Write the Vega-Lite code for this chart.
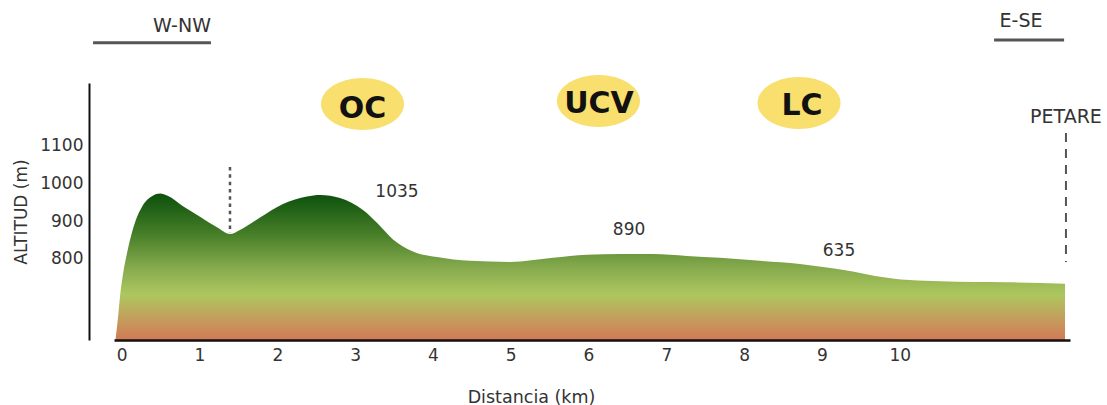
{
  "$schema": "https://vega.github.io/schema/vega-lite/v6.json",
  "width": 956,
  "height": 257,
  "autosize": {"type": "none"},
  "padding": {"left": 114, "top": 83, "right": 37, "bottom": 65},
  "background": "white",
  "config": {"view": {"stroke": null}},
  "datasets": {
    "profile": [
      {"km": -0.08, "alt": 585},
      {"km": -0.05, "alt": 640},
      {"km": -0.022, "alt": 700},
      {"km": 0.017, "alt": 760},
      {"km": 0.068, "alt": 815},
      {"km": 0.145, "alt": 880},
      {"km": 0.27, "alt": 942},
      {"km": 0.4, "alt": 968},
      {"km": 0.492, "alt": 974},
      {"km": 0.59, "alt": 968},
      {"km": 0.788, "alt": 940},
      {"km": 1.006, "alt": 912},
      {"km": 1.225, "alt": 884},
      {"km": 1.392, "alt": 866},
      {"km": 1.52, "alt": 877},
      {"km": 1.778, "alt": 910},
      {"km": 2.073, "alt": 946},
      {"km": 2.382, "alt": 966},
      {"km": 2.55, "alt": 970},
      {"km": 2.806, "alt": 962},
      {"km": 3.101, "alt": 930},
      {"km": 3.281, "alt": 896},
      {"km": 3.487, "alt": 852},
      {"km": 3.744, "alt": 820},
      {"km": 4.053, "alt": 805},
      {"km": 4.477, "alt": 795},
      {"km": 4.991, "alt": 792},
      {"km": 5.543, "alt": 803},
      {"km": 5.98, "alt": 811},
      {"km": 6.405, "alt": 813},
      {"km": 6.829, "alt": 813},
      {"km": 7.266, "alt": 808},
      {"km": 7.69, "alt": 803},
      {"km": 8.204, "alt": 795},
      {"km": 8.718, "alt": 787},
      {"km": 9.014, "alt": 779},
      {"km": 9.3, "alt": 770},
      {"km": 9.683, "alt": 755},
      {"km": 10.13, "alt": 744},
      {"km": 10.52, "alt": 741},
      {"km": 11.38, "alt": 738},
      {"km": 12.125, "alt": 734}
    ],
    "places": [
      {"km": 3.095, "alt": 1211.5, "label": "OC"},
      {"km": 6.128, "alt": 1219.5, "label": "UCV"},
      {"km": 8.706, "alt": 1214.2, "label": "LC"}
    ],
    "placeLabels": [
      {"km": 3.095, "alt": 1198, "label": "OC"},
      {"km": 6.135, "alt": 1211.5, "label": "UCV"},
      {"km": 8.744, "alt": 1206, "label": "LC"}
    ],
    "heights": [
      {"km": 3.538, "alt": 978, "label": "1035"},
      {"km": 6.521, "alt": 877, "label": "890"},
      {"km": 9.22, "alt": 821, "label": "635"}
    ],
    "directions": [
      {"km": 0.775, "alt": 1418.6, "label": "W-NW"},
      {"km": 11.56, "alt": 1431.9, "label": "E-SE"},
      {"km": 12.137, "alt": 1177, "label": "PETARE"}
    ],
    "underlines": [
      {"km": -0.368, "km2": 1.147, "alt": 1373.5},
      {"km": 11.213, "km2": 12.113, "alt": 1381.4}
    ],
    "dotted": [
      {"km": 1.392, "alt": 1044, "alt2": 869}
    ],
    "dashed": [
      {"km": 12.137, "alt": 1134.5, "alt2": 792}
    ]
  },
  "encoding": {
    "x": {
      "field": "km",
      "type": "quantitative",
      "scale": {"domain": [-0.099, 12.189], "nice": false, "zero": false},
      "axis": {
        "values": [0, 1, 2, 3, 4, 5, 6, 7, 8, 9, 10],
        "title": "Distancia (km)",
        "zindex": 2,
        "grid": false,
        "ticks": false,
        "tickSize": 0,
        "domainColor": "#111111",
        "domainWidth": 2.5,
        "labelFont": "DejaVu Sans",
        "labelFontSize": 17,
        "labelColor": "#333333",
        "labelPadding": 7,
        "labelFlush": false,
        "labelOverlap": false,
        "titleFont": "DejaVu Sans",
        "titleFontSize": 17.5,
        "titleFontWeight": "normal",
        "titleColor": "#333333",
        "titleX": 417,
        "titleY": 48,
        "titleBaseline": "top"
      }
    },
    "y": {
      "field": "alt",
      "type": "quantitative",
      "scale": {"domain": [585, 1267], "nice": false, "zero": false},
      "axis": {
        "values": [800, 900, 1000, 1100],
        "format": "d",
        "title": "ALTITUD (m)",
        "zindex": 2,
        "grid": false,
        "ticks": false,
        "tickSize": 0,
        "offset": 25,
        "domainColor": "#111111",
        "domainWidth": 2,
        "labelFont": "DejaVu Sans",
        "labelFontSize": 17,
        "labelColor": "#333333",
        "labelPadding": 6,
        "titleFont": "DejaVu Sans",
        "titleFontSize": 17,
        "titleFontWeight": "normal",
        "titleColor": "#333333",
        "titlePadding": 9
      }
    }
  },
  "layer": [
    {
      "data": {"name": "profile"},
      "mark": {
        "type": "area",
        "interpolate": "monotone",
        "color": {
          "gradient": "linear",
          "x1": 0, "y1": 0, "x2": 0, "y2": 1,
          "stops": [
            {"offset": 0, "color": "#0b500c"},
            {"offset": 0.27, "color": "#457d27"},
            {"offset": 0.5, "color": "#84a94c"},
            {"offset": 0.69, "color": "#adc75f"},
            {"offset": 0.85, "color": "#c39e5c"},
            {"offset": 1, "color": "#d27a56"}
          ]
        }
      },
      "encoding": {"y2": {"datum": 585}}
    },
    {
      "data": {"name": "dotted"},
      "mark": {"type": "rule", "color": "#555555", "strokeWidth": 2.5, "strokeDash": [3.5, 3.8]},
      "encoding": {"y2": {"field": "alt2"}}
    },
    {
      "data": {"name": "dashed"},
      "mark": {"type": "rule", "color": "#555555", "strokeWidth": 2, "strokeDash": [9, 7]},
      "encoding": {"y2": {"field": "alt2"}}
    },
    {
      "data": {"name": "underlines"},
      "mark": {"type": "rule", "color": "#555555", "strokeWidth": 3},
      "encoding": {"x2": {"field": "km2"}}
    },
    {
      "data": {"name": "places"},
      "mark": {
        "type": "point",
        "shape": "M-1,0A1,0.6265,0,1,1,1,0A1,0.6265,0,1,1,-1,0Z",
        "size": 6889,
        "filled": true,
        "color": "#f8df6e",
        "opacity": 1,
        "strokeWidth": 0
      }
    },
    {
      "data": {"name": "placeLabels"},
      "mark": {"type": "text", "font": "DejaVu Sans", "fontWeight": "bold", "fontSize": 30, "color": "#111111", "align": "center", "baseline": "middle"},
      "encoding": {"text": {"field": "label"}}
    },
    {
      "data": {"name": "heights"},
      "mark": {"type": "text", "font": "DejaVu Sans", "fontSize": 17, "color": "#333333", "align": "center", "baseline": "middle"},
      "encoding": {"text": {"field": "label"}}
    },
    {
      "data": {"name": "directions"},
      "mark": {"type": "text", "font": "DejaVu Sans", "fontSize": 19, "color": "#333333", "align": "center", "baseline": "middle"},
      "encoding": {"text": {"field": "label"}}
    }
  ]
}
